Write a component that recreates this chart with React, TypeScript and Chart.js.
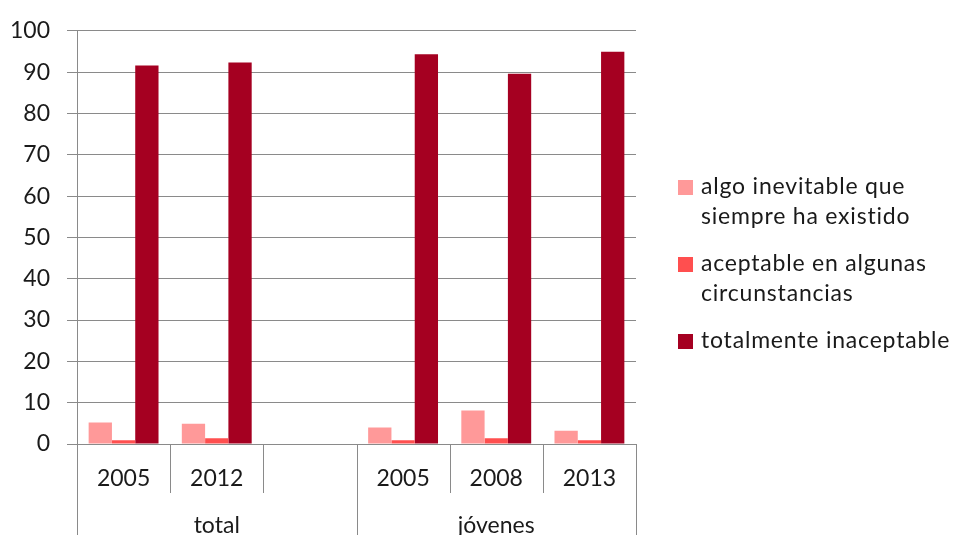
import React, { useEffect, useRef } from "react";
import { Chart, registerables } from "chart.js";

Chart.register(...registerables);

const categories = ["2005", "2012", "", "2005", "2008", "2013"];
const groupLabels = ["total", "jóvenes"];
const groupStarts = [0, 3];
const groupEnds = [3, 6];
const yTicks = [0, 10, 20, 30, 40, 50, 60, 70, 80, 90, 100];

const seriesNames = [
  ["algo inevitable que", "siempre ha existido"],
  ["aceptable en algunas", "circunstancias"],
  ["totalmente inaceptable"],
];
const inevitable = [5.2, 4.9, null, 4.0, 8.1, 3.2];
const aceptable = [0.9, 1.4, null, 0.9, 1.4, 0.9];
const inaceptable = [91.6, 92.3, null, 94.3, 89.6, 94.9];
const seriesColors = ["#FF9999", "#FF4F4F", "#A50021"];

const FONT = "Lato, 'Open Sans', sans-serif";
const FONT_SIZE = 23;
const TEXT = "#1a1a1a";
const LINE = "#8a8a8a";

const decorPlugin = {
  id: "decor",
  afterDraw(chart: any) {
    const ctx = chart.ctx;
    const x = chart.scales.x;
    const area = chart.chartArea;
    const n = categories.length;
    const step = x.getPixelForValue(1) - x.getPixelForValue(0);
    const start = x.getPixelForValue(0) - step / 2;
    ctx.save();
    ctx.strokeStyle = LINE;
    ctx.lineWidth = 1;
    for (let i = 0; i <= n; i++) {
      const px = Math.round(start + i * step) + 0.5;
      const long = groupStarts.includes(i) || groupEnds.includes(i);
      ctx.beginPath();
      ctx.moveTo(px, area.bottom);
      ctx.lineTo(px, long ? chart.height : area.bottom + 49);
      ctx.stroke();
    }
    ctx.fillStyle = TEXT;
    ctx.font = `${FONT_SIZE}px ${FONT}`;
    ctx.textAlign = "center";
    ctx.textBaseline = "middle";
    groupLabels.forEach((lab, g) => {
      const cx = start + ((groupStarts[g] + groupEnds[g]) / 2) * step;
      ctx.fillText(lab, cx, area.bottom + 82);
    });

    // legend
    const lx = 678;
    let ly = 187;
    ctx.textAlign = "left";
    if ("letterSpacing" in ctx) ctx.letterSpacing = "0.8px";
    chart.data.datasets.forEach((ds: any, i: number) => {
      ctx.fillStyle = ds.backgroundColor;
      ctx.fillRect(lx, ly - 7, 15, 15);
      ctx.fillStyle = TEXT;
      const lines: string[] = seriesNames[i];
      lines.forEach((t, k) => ctx.fillText(t, lx + 23, ly + k * 30));
      ly += (lines.length - 1) * 30 + 47;
    });
    ctx.restore();
  },
};

export default function App() {
  const ref = useRef<HTMLCanvasElement>(null);
  useEffect(() => {
    const chart = new Chart(ref.current!, {
      type: "bar",
      data: {
        labels: categories,
        datasets: [
          { label: seriesNames[0].join(" "), data: inevitable, backgroundColor: seriesColors[0] },
          { label: seriesNames[1].join(" "), data: aceptable, backgroundColor: seriesColors[1] },
          { label: seriesNames[2].join(" "), data: inaceptable, backgroundColor: seriesColors[2] },
        ],
      },
      options: {
        responsive: false,
        animation: false,
        layout: { padding: { top: 25, right: 320, left: 0, bottom: 0 } },
        datasets: { bar: { categoryPercentage: 0.75, barPercentage: 1 } },
        plugins: { legend: { display: false }, tooltip: { enabled: false } },
        scales: {
          x: {
            grid: { display: false, drawTicks: false },
            border: { display: true, color: LINE },
            ticks: { color: TEXT, font: { family: FONT, size: FONT_SIZE }, padding: 21, maxRotation: 0 },
            afterFit: (s: any) => { s.height = 91; },
          },
          y: {
            min: 0,
            max: 100,
            afterBuildTicks: (s: any) => { s.ticks = yTicks.map((v) => ({ value: v })); },
            grid: { color: LINE, tickLength: 10 },
            border: { display: true, color: LINE },
            ticks: { color: TEXT, font: { family: FONT, size: FONT_SIZE }, padding: 17 },
            afterFit: (s: any) => { s.width = 77; },
          },
        },
      },
      plugins: [decorPlugin],
    });
    return () => chart.destroy();
  }, []);
  return (
    <div style={{ position: "absolute", left: 0, top: 0, width: 956, height: 535, background: "#fff" }}>
      <canvas ref={ref} width={956} height={535} />
    </div>
  );
}
